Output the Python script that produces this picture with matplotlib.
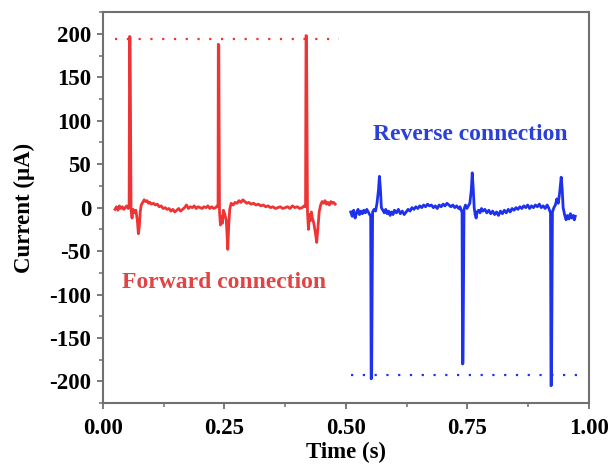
#!/usr/bin/env python3
import matplotlib
matplotlib.use('Agg')
import matplotlib.pyplot as plt
from matplotlib.ticker import MultipleLocator

# forward connection trace (red)
fwd_t = [0.025, 0.028, 0.031, 0.034, 0.037, 0.040, 0.043, 0.046, 0.049, 0.052, 0.054,
         0.055, 0.056, 0.058, 0.060, 0.062, 0.065, 0.068, 0.071, 0.073, 0.075, 0.077,
         0.079, 0.082, 0.085, 0.088, 0.091, 0.094, 0.097, 0.100, 0.104, 0.108, 0.112,
         0.116, 0.120, 0.124, 0.128, 0.132, 0.136, 0.140, 0.144, 0.148, 0.152, 0.156,
         0.160, 0.164, 0.168, 0.172, 0.176, 0.180, 0.184, 0.188, 0.192, 0.196, 0.200,
         0.204, 0.208, 0.212, 0.216, 0.220, 0.224, 0.228, 0.232, 0.235, 0.237, 0.2375,
         0.2385, 0.240, 0.242, 0.244, 0.246, 0.248, 0.251, 0.254, 0.257, 0.259, 0.261,
         0.264, 0.268, 0.272, 0.276, 0.280, 0.284, 0.288, 0.292, 0.296, 0.300, 0.305,
         0.310, 0.315, 0.320, 0.325, 0.330, 0.335, 0.340, 0.345, 0.350, 0.355, 0.360,
         0.365, 0.370, 0.375, 0.380, 0.385, 0.390, 0.395, 0.400, 0.405, 0.410, 0.414,
         0.417, 0.418, 0.419, 0.421, 0.423, 0.425, 0.427, 0.429, 0.431, 0.434, 0.437,
         0.440, 0.443, 0.445, 0.448, 0.451, 0.454, 0.457, 0.460, 0.463, 0.466, 0.469,
         0.472, 0.475, 0.478]
fwd_i = [-2, 1, -3, 2, -1, 1, -2, 0, 2, -1, 1,
         197, 196, -3, -12, -2, -6, -3, -15, -30, -22, -4,
         3, 6, 9, 7, 8, 5, 6, 4, 5, 3, 4,
         1, 2, -1, 0, -2, -1, -4, -2, -5, -3, -1,
         -4, -2, 0, 3, -1, 1, 0, 2, -1, 1, 0,
         -1, 1, 0, 2, -1, 1, -1, 0, 2, 1, 188,
         187, -5, -20, -10, -18, -3, -8, -15, -48, -20, -2,
         5, 3, 6, 5, 8, 6, 9, 7, 5, 6, 4,
         5, 3, 4, 2, 3, 1, 2, 0, 1, -1, 0,
         1, -1, 0, 1, -1, 2, 0, 1, -1, 0, 2,
         1, 198, 197, -5, -25, -8, -15, -5, -12, -18, -28,
         -40, -20, -5, 3, 7, 5, 8, 4, 6, 3, 7,
         5, 6, 4]

# reverse connection trace (blue)
rev_t = [0.510, 0.513, 0.516, 0.519, 0.522, 0.525, 0.528, 0.531, 0.534, 0.537, 0.540,
         0.543, 0.546, 0.549, 0.551, 0.552, 0.553, 0.555, 0.558, 0.561, 0.564, 0.567,
         0.569, 0.571, 0.573, 0.576, 0.579, 0.582, 0.585, 0.588, 0.591, 0.594, 0.597,
         0.600, 0.604, 0.608, 0.612, 0.616, 0.620, 0.624, 0.628, 0.632, 0.636, 0.640,
         0.644, 0.648, 0.652, 0.656, 0.660, 0.664, 0.668, 0.672, 0.676, 0.680, 0.684,
         0.688, 0.692, 0.696, 0.700, 0.704, 0.708, 0.712, 0.716, 0.720, 0.724, 0.728,
         0.732, 0.735, 0.737, 0.739, 0.740, 0.741, 0.743, 0.746, 0.749, 0.752, 0.755,
         0.758, 0.760, 0.762, 0.764, 0.766, 0.768, 0.770, 0.773, 0.776, 0.779, 0.782,
         0.786, 0.790, 0.794, 0.798, 0.802, 0.806, 0.810, 0.814, 0.818, 0.822, 0.826,
         0.830, 0.834, 0.838, 0.842, 0.846, 0.850, 0.854, 0.858, 0.862, 0.866, 0.870,
         0.874, 0.878, 0.882, 0.886, 0.890, 0.894, 0.898, 0.902, 0.906, 0.910, 0.914,
         0.917, 0.919, 0.921, 0.922, 0.923, 0.925, 0.928, 0.931, 0.934, 0.937, 0.940,
         0.943, 0.945, 0.947, 0.950, 0.953, 0.956, 0.959, 0.962, 0.965, 0.968, 0.970,
         0.972]
rev_i = [-5, -10, -3, -12, -6, -2, -8, -4, -7, -3, -6,
         -2, -5, -8, -10, -197, -196, -5, -2, -4, 5, 20,
         36, 22, 0, -3, -6, -2, -7, -4, -9, -5, -8,
         -3, -6, -2, -7, -4, -8, -5, -2, -4, 0, -2,
         1, -1, 2, 0, 3, 1, 4, 2, 3, 0, 2,
         -1, 3, 1, 4, 2, 5, 3, 1, 3, 0, 2,
         -1, 1, -3, -5, -180, -179, -2, 3, -1, 2, 5,
         20, 40, 22, 0, -8, -12, -5, -3, -6, -1, -4,
         -2, -6, -3, -7, -4, -8, -5, -9, -4, -7, -3,
         -6, -2, -5, -1, -3, 0, -2, 1, -1, 2, 0,
         3, -1, 2, 0, 3, 1, 4, 0, 2, -1, 3,
         0, -3, -6, -205, -204, -5, 0, 3, 10, 5, 18,
         35, 22, 0, -8, -14, -9, -13, -7, -12, -9, -14,
         -10]

# saturation levels (dotted guides)
fwd_level = 194
rev_level = -193
fwd_span = [0.025, 0.486]
rev_span = [0.510, 0.990]

plt.rcParams['font.family'] = ['Liberation Serif', 'DejaVu Serif']
plt.rcParams['font.weight'] = 'bold'
plt.rcParams['axes.unicode_minus'] = False

red = '#EE3434'
blue = '#1E32EE'

fig = plt.figure(figsize=(6.16, 4.65), dpi=100)
ax = fig.add_axes([0.167, 0.133, 0.789, 0.841])

ax.plot(fwd_t, fwd_i, color=red, lw=2.0)
ax.plot(rev_t, rev_i, color=blue, lw=2.0)
ax.plot(fwd_span, [fwd_level, fwd_level], color=red, lw=1.6, ls=(0, (1, 4.3)))
ax.plot(rev_span, [rev_level, rev_level], color=blue, lw=1.6, ls=(0, (1, 4.3)))

ax.text(0.04, -86, 'Forward connection', color='#E04444', fontsize=17,
        fontweight='bold', va='center', ha='left')
ax.text(0.755, 84, 'Reverse connection', color='#2A40D8', fontsize=17,
        fontweight='bold', va='center', ha='center')

ax.set_xlim(0, 1.0)
ax.set_ylim(-225, 225)
ax.xaxis.set_major_locator(MultipleLocator(0.25))
ax.xaxis.set_minor_locator(MultipleLocator(0.125))
ax.yaxis.set_major_locator(MultipleLocator(50))
ax.yaxis.set_minor_locator(MultipleLocator(25))
ax.set_xticks([0, 0.25, 0.5, 0.75, 1.0])
ax.set_xticklabels(['0.00', '0.25', '0.50', '0.75', '1.00'])

for s in ax.spines.values():
    s.set_color('#707070')
    s.set_linewidth(1.5)
ax.tick_params(which='major', direction='out', length=4.5, width=1.3, color='#707070',
               labelsize=16.5)
ax.tick_params(which='minor', direction='out', length=3, width=1.1, color='#707070')
ax.tick_params(axis='x', pad=6)
ax.tick_params(axis='y', pad=4)

ax.set_xlabel('Time (s)', fontsize=16.5, fontweight='bold', labelpad=2)
ax.set_ylabel('Current (\u03bcA)', fontsize=16.5, fontweight='bold', labelpad=10)

fig.savefig('out.png', dpi=100)
